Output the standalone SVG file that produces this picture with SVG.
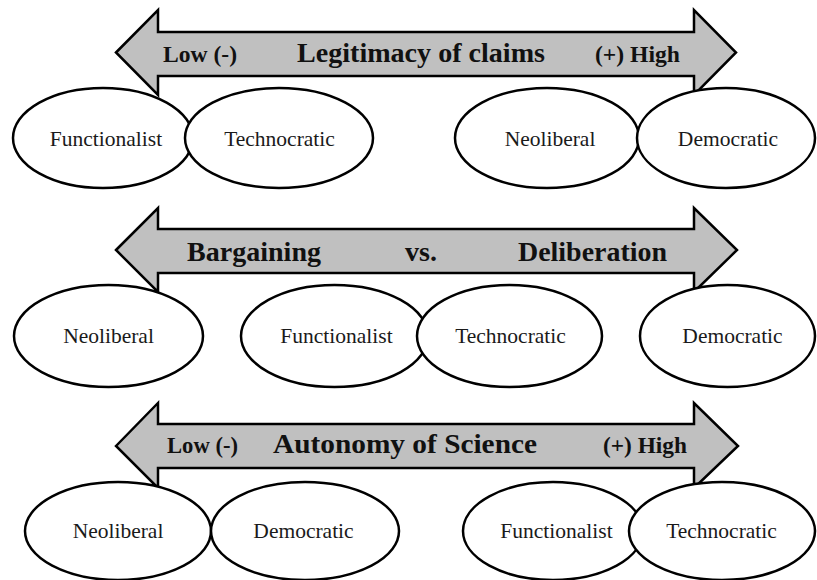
<svg xmlns="http://www.w3.org/2000/svg" width="817" height="580" viewBox="0 0 817 580">
<style>
.axis{fill:#c0c0c0;stroke:#000;stroke-width:2.5;stroke-linejoin:miter}
.node ellipse{fill:#fff;stroke:#000;stroke-width:2.5}
.lbl{font-family:"Liberation Serif","Times New Roman",serif;font-size:21.5px;fill:#1a1a1a;text-anchor:middle}
.big{font-family:"Liberation Serif","Times New Roman",serif;font-weight:bold;font-size:28px;fill:#111}
.small{font-family:"Liberation Serif","Times New Roman",serif;font-weight:bold;font-size:23px;fill:#111}
</style>
<rect width="817" height="580" fill="#fff"/>
<g id="connectors">
  <g id="axis-legitimacy">
    <polygon class="axis" points="116,52.5 158,10 158,32 694,32 694,10 736,52.5 694,95 694,76 158,76 158,95"/>
    <text class="small" x="163" y="62" textLength="74" lengthAdjust="spacingAndGlyphs">Low (-)</text>
    <text class="big" x="297" y="62" textLength="248" lengthAdjust="spacingAndGlyphs">Legitimacy of claims</text>
    <text class="small" x="595" y="62" textLength="85" lengthAdjust="spacingAndGlyphs">(+) High</text>
  </g>
  <g id="axis-bargaining">
    <polygon class="axis" points="116,250 158,208 158,229 694,229 694,208 737,250 694,292 694,273 158,273 158,292"/>
    <text class="big" x="187" y="261" textLength="134" lengthAdjust="spacingAndGlyphs">Bargaining</text>
    <text class="big" x="405" y="261" textLength="32" lengthAdjust="spacingAndGlyphs">vs.</text>
    <text class="big" x="518" y="261" textLength="149" lengthAdjust="spacingAndGlyphs">Deliberation</text>
  </g>
  <g id="axis-autonomy">
    <polygon class="axis" points="116,446 158,403 158,424 694,424 694,403 738,446 694,488 694,468 158,468 158,488"/>
    <text class="small" x="167" y="453" textLength="71" lengthAdjust="spacingAndGlyphs">Low (-)</text>
    <text class="big" x="273" y="453" textLength="264" lengthAdjust="spacingAndGlyphs">Autonomy of Science</text>
    <text class="small" x="603" y="453" textLength="84" lengthAdjust="spacingAndGlyphs">(+) High</text>
  </g>
</g>
<g id="row1">
  <g id="r1-functionalist" class="node"><ellipse cx="103" cy="138" rx="90" ry="50"/><text class="lbl" x="106" y="146">Functionalist</text></g>
  <g id="r1-technocratic" class="node"><ellipse cx="279" cy="138" rx="94" ry="50"/><text class="lbl" x="279.5" y="146">Technocratic</text></g>
  <g id="r1-neoliberal" class="node"><ellipse cx="547" cy="138" rx="92" ry="50"/><text class="lbl" x="550" y="146">Neoliberal</text></g>
  <g id="r1-democratic" class="node"><ellipse cx="726" cy="138" rx="89" ry="50"/><text class="lbl" x="728" y="146">Democratic</text></g>
</g>
<g id="row2">
  <g id="r2-neoliberal" class="node"><ellipse cx="108.5" cy="336" rx="94.5" ry="51"/><text class="lbl" x="108.5" y="343">Neoliberal</text></g>
  <g id="r2-functionalist" class="node"><ellipse cx="334.5" cy="336" rx="93.5" ry="51"/><text class="lbl" x="336.5" y="343">Functionalist</text></g>
  <g id="r2-technocratic" class="node"><ellipse cx="509.5" cy="336" rx="92.5" ry="51"/><text class="lbl" x="510.5" y="343">Technocratic</text></g>
  <g id="r2-democratic" class="node"><ellipse cx="727.5" cy="336" rx="87.5" ry="51"/><text class="lbl" x="732.5" y="343">Democratic</text></g>
</g>
<g id="row3">
  <g id="r3-neoliberal" class="node"><ellipse cx="118" cy="531" rx="93" ry="49"/><text class="lbl" x="118" y="538">Neoliberal</text></g>
  <g id="r3-democratic" class="node"><ellipse cx="305" cy="531" rx="94" ry="49"/><text class="lbl" x="303.5" y="538">Democratic</text></g>
  <g id="r3-functionalist" class="node"><ellipse cx="553" cy="531" rx="90" ry="49"/><text class="lbl" x="556.5" y="538">Functionalist</text></g>
  <g id="r3-technocratic" class="node"><ellipse cx="722" cy="531" rx="93" ry="49"/><text class="lbl" x="721.5" y="538">Technocratic</text></g>
</g>
</svg>
